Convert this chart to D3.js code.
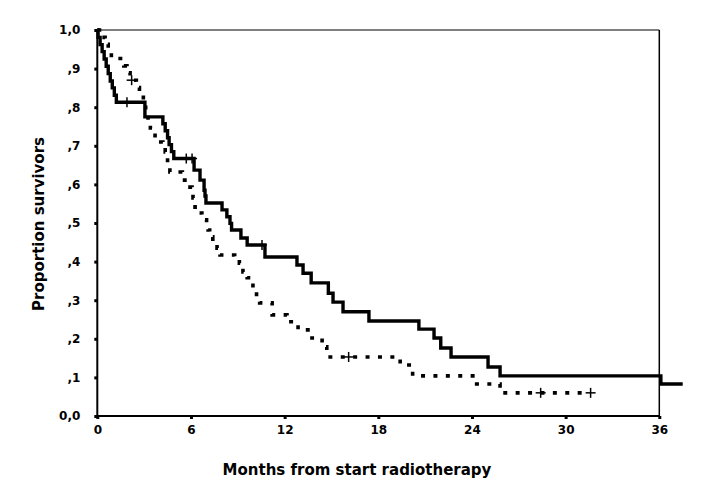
<!DOCTYPE html>
<html>
<head>
<meta charset="utf-8">
<script src="https://cdn.jsdelivr.net/npm/d3@7"></script>
<style>
  html, body { margin: 0; padding: 0; background: #fff; }
  svg { display: block; }
  text { font-family: "DejaVu Sans", Arial, sans-serif; font-weight: bold; fill: #000; }
</style>
</head>
<body>
<svg id="chart" width="705" height="499"></svg>
<script>
// ---- Data ----
const solidTimes = [0, 0.05, 0.18, 0.31, 0.44, 0.57, 0.70, 0.83, 0.96, 1.09, 1.22,
  3.05, 4.2, 4.35, 4.5, 4.6, 4.75, 4.9,
  6.2, 6.58, 6.84, 6.9, 6.96, 7.99, 8.3, 8.5, 8.6, 9.2, 9.6,
  10.74, 12.79, 13.18, 13.7, 14.8, 15.1, 15.74, 17.4, 20.6, 21.57, 22.0, 22.66,
  25.03, 25.8, 36.1, 37.5];
const solidSurv = [1.0, 0.981, 0.962, 0.944, 0.925, 0.906, 0.887, 0.868, 0.850, 0.831, 0.813,
  0.775, 0.757, 0.739, 0.721, 0.703, 0.685, 0.667,
  0.637, 0.611, 0.585, 0.570, 0.552, 0.534, 0.516, 0.499, 0.482, 0.461, 0.443,
  0.412, 0.391, 0.370, 0.345, 0.318, 0.295, 0.270, 0.246, 0.225, 0.202, 0.176, 0.153,
  0.127, 0.104, 0.083, 0.083];
const solidCensor = [1.9, 5.7, 6.07, 10.55];

const dotTimes = [0, 0.3, 0.5, 0.7, 0.9, 1.7, 1.9, 2.1, 2.5, 2.7, 2.95, 3.1,
  3.25, 3.4, 3.57, 3.7, 3.9, 4.2, 4.35, 4.5, 4.65,
  5.45, 5.75, 6.07, 6.13, 6.26, 6.45, 6.7, 7.0, 7.1, 7.2, 7.4, 7.67, 7.86,
  8.8, 9.1, 9.33, 9.6, 9.8, 9.97, 10.2, 10.4,
  11.2, 12.15, 12.86, 13.75, 14.4, 14.7, 19.4, 20.2, 24.3, 25.8, 31.6];
const dotSurv = [1.0, 0.981, 0.963, 0.944, 0.926, 0.907, 0.889, 0.870, 0.851, 0.832, 0.813, 0.794,
  0.760, 0.746, 0.736, 0.720, 0.710, 0.697, 0.684, 0.655, 0.632,
  0.611, 0.593, 0.580, 0.565, 0.541, 0.526, 0.508, 0.500, 0.482, 0.464, 0.451, 0.435, 0.417,
  0.409, 0.396, 0.373, 0.358, 0.345, 0.321, 0.308, 0.293,
  0.262, 0.244, 0.223, 0.202, 0.179, 0.153, 0.132, 0.104, 0.083, 0.060, 0.060];
const dotCensor = [2.2, 16.1, 28.4, 31.6];

const xTicks = [0, 6, 12, 18, 24, 30, 36];
const yTicks = [0, 0.1, 0.2, 0.3, 0.4, 0.5, 0.6, 0.7, 0.8, 0.9, 1.0];
const xTitle = "Months from start radiotherapy";
const yTitle = "Proportion survivors";

// ---- Layout ----
const svg = d3.select("#chart");
const mLeft = 97.3, mRight = 659.3, mTop = 30, mBottom = 416;
const x = d3.scaleLinear().domain([0, 36]).range([mLeft, mRight]);
const y = d3.scaleLinear().domain([0, 1]).range([mBottom, mTop]);
const FONT = "'DejaVu Sans', Arial, sans-serif";

// frame (top and right)
svg.append("line").attr("x1", mLeft).attr("x2", mRight).attr("y1", mTop).attr("y2", mTop)
  .attr("stroke", "#000").attr("stroke-width", 1.2);
svg.append("line").attr("x1", mRight).attr("x2", mRight).attr("y1", mTop).attr("y2", mBottom)
  .attr("stroke", "#000").attr("stroke-width", 1.5);

// axes
const fmtY = d => d === 0 ? "0,0" : d === 1 ? "1,0" : "," + Math.round(d * 10);
const yAxis = svg.append("g").attr("transform", `translate(${mLeft},0)`)
  .call(d3.axisLeft(y).tickValues(yTicks).tickFormat(fmtY).tickSize(3).tickPadding(14));
const xAxis = svg.append("g").attr("transform", `translate(0,${mBottom})`)
  .call(d3.axisBottom(x).tickValues(xTicks).tickFormat(d3.format("d")).tickSize(3).tickPadding(6));
[yAxis, xAxis].forEach(g => {
  g.select(".domain").attr("stroke", "#000").attr("stroke-width", 2);
  g.selectAll(".tick line").attr("stroke", "#000").attr("stroke-width", 3);
  g.selectAll(".tick text").style("font-size", "12px").style("font-weight", "bold")
    .style("font-family", FONT).attr("fill", "#000");
});
xAxis.select(".domain").attr("d", `M${mLeft},0H${mRight}`);
yAxis.select(".domain").attr("d", `M0,${mBottom}V${mTop}`);

// curves
const line = d3.line().x(d => x(d[0])).y(d => y(d[1])).curve(d3.curveStepAfter);
const solidData = solidTimes.map((t, i) => [t, solidSurv[i]]);
const dotData = dotTimes.map((t, i) => [t, dotSurv[i]]);

svg.append("path").attr("d", line(dotData)).attr("fill", "none")
  .attr("stroke", "#000").attr("stroke-width", 3.6).attr("stroke-dasharray", "4 8.4");
svg.append("path").attr("d", line(solidData)).attr("fill", "none")
  .attr("stroke", "#000").attr("stroke-width", 3.4).attr("stroke-linejoin", "miter");

function survAt(times, surv, t) {
  let s = surv[0];
  for (let i = 0; i < times.length; i++) { if (times[i] <= t) s = surv[i]; }
  return s;
}
function censorMarks(ts, times, surv) {
  const g = svg.append("g");
  ts.forEach(t => {
    const cx = x(t), cy = y(survAt(times, surv, t));
    g.append("line").attr("x1", cx).attr("x2", cx).attr("y1", cy - 5).attr("y2", cy + 5)
      .attr("stroke", "#000").attr("stroke-width", 1.5);
    g.append("line").attr("x1", cx - 5).attr("x2", cx + 5).attr("y1", cy).attr("y2", cy)
      .attr("stroke", "#000").attr("stroke-width", 1.5);
  });
}
censorMarks(solidCensor, solidTimes, solidSurv);
censorMarks(dotCensor, dotTimes, dotSurv);

// titles
svg.append("text").attr("x", 357).attr("y", 475).attr("text-anchor", "middle")
  .style("font-size", "15px").style("font-family", FONT).text(xTitle);
svg.append("text").attr("transform", "translate(44,224) rotate(-90)").attr("text-anchor", "middle")
  .style("font-size", "15px").style("font-family", FONT).text(yTitle);
</script>
</body>
</html>
